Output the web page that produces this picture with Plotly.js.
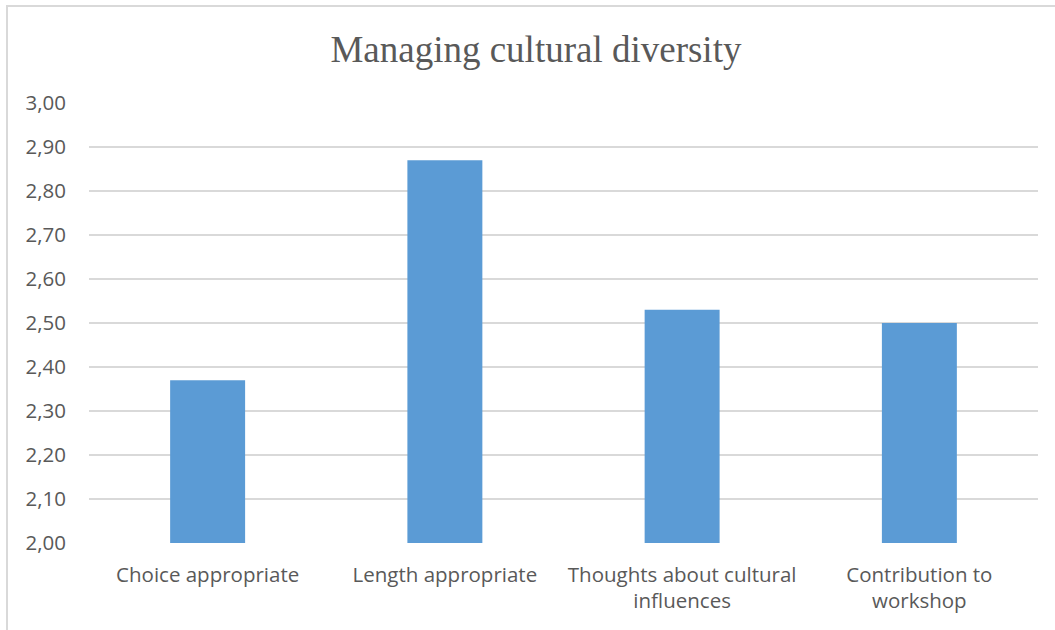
<!DOCTYPE html>
<html>
<head>
<meta charset="utf-8">
<script src="https://cdn.plot.ly/plotly-3.0.1.min.js"></script>
<style>
  html, body { margin: 0; padding: 0; background: #ffffff; }
  #wrap { position: relative; width: 1055px; height: 630px; overflow: hidden; }
  #chart { position: absolute; left: 0; top: 0; width: 1055px; height: 630px; }
  #frame { position: absolute; left: 6px; top: 5px; width: 1100px; height: 700px;
           border-left: 2px solid #d9d9d9; border-top: 2px solid #d9d9d9; pointer-events: none; }
</style>
</head>
<body>
<div id="wrap">
  <div id="chart"></div>
  <div id="frame"></div>
</div>
<script>
const categories = [
  "Choice appropriate",
  "Length appropriate",
  "Thoughts about cultural<br>influences",
  "Contribution to<br>workshop"
];
const values = [2.37, 2.87, 2.53, 2.50];
const axisMin = 2.0;
const axisMax = 3.0;
const tickValues = [2.0, 2.1, 2.2, 2.3, 2.4, 2.5, 2.6, 2.7, 2.8, 2.9, 3.0];
const tickLabels = ["2,00", "2,10", "2,20", "2,30", "2,40", "2,50", "2,60", "2,70", "2,80", "2,90", "3,00"];

const trace = {
  type: "bar",
  x: categories,
  y: values.map(v => v - axisMin),
  base: axisMin,
  marker: { color: "#5b9bd5", line: { width: 0 } },
  hoverinfo: "x+y"
};

const layout = {
  width: 1055,
  height: 630,
  margin: { l: 89, r: 17, t: 103, b: 87 },
  paper_bgcolor: "#ffffff",
  plot_bgcolor: "#ffffff",
  bargap: 0.684,
  showlegend: false,
  title: {
    text: "Managing cultural diversity",
    font: { family: "Liberation Serif, Times New Roman, serif", size: 37, color: "#595959" },
    x: 0.508, xanchor: "center",
    y: 0.922, yanchor: "middle"
  },
  xaxis: {
    type: "category",
    showgrid: false,
    zeroline: false,
    showline: false,
    ticks: "",
    ticklabelstandoff: 17,
    tickfont: { family: "Open Sans, Noto Sans, sans-serif", size: 20.5, color: "#595959" }
  },
  yaxis: {
    range: [axisMin, axisMax],
    tickmode: "array",
    tickvals: tickValues,
    ticktext: tickLabels,
    showgrid: true,
    gridcolor: "#d9d9d9",
    gridwidth: 1.5,
    zeroline: false,
    showline: false,
    ticks: "",
    ticklabelstandoff: 22,
    tickfont: { family: "Open Sans, Noto Sans, sans-serif", size: 20.5, color: "#595959" }
  }
};
Plotly.newPlot("chart", [trace], layout, { displayModeBar: false, staticPlot: true });
</script>
</body>
</html>
